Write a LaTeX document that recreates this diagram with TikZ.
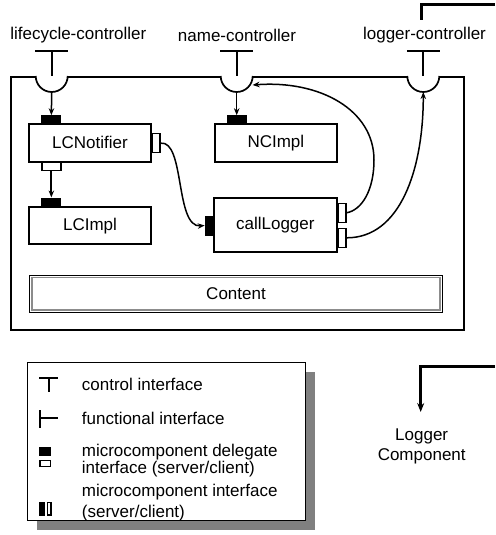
\documentclass[tikz,border=0pt]{standalone}
\usepackage{fontspec}
\setmainfont{Liberation Sans}
\usetikzlibrary{arrows.meta,calc}
\newcommand\lblfont{\fontsize{17}{19}\selectfont}
\tikzset{
  comp/.style={draw, line width=2pt, fill=white, inner sep=0pt, font=\lblfont},
  srvtab/.style={draw, fill=black, inner sep=0pt, line width=0.8pt},
  clitab/.style={draw, fill=white, inner sep=0pt, line width=1.4pt},
  htab/.style={minimum width=19pt, minimum height=8pt},
  vtab/.style={minimum width=7.5pt, minimum height=19pt},
  conn/.style={line width=1.5pt, -{Stealth[length=7pt,width=5.5pt]}},
  ctl/.style={line width=1.7pt},
  lbl/.style={font=\lblfont, inner sep=0pt},
  thickln/.style={line width=3pt},
}
\begin{document}
\begin{tikzpicture}[x=1pt,y=-1pt]
\useasboundingbox (0,0) rectangle (495,535);

% outer membrane
\node[draw, line width=1.7pt, inner sep=0pt, minimum width=453pt, minimum height=253pt, anchor=north west] (outer) at (10,76) {};

% controller labels
\node[lbl] (lcl) at (78.3,35) {lifecycle-controller};
\node[lbl] (ncl) at (237,35) {name-controller};
\node[lbl] (lgl) at (424.5,35) {logger-controller};

% control interfaces (T + half circle)
\foreach \n/\x in {lc/51.7, nc/236.7, lg/423.3} {
  \coordinate (\n top) at (\x,51);
  \coordinate (\n mem) at (\x,76);
  \coordinate (\n bot) at (\x,92);
  \draw[ctl] (\x-16.5,51) -- (\x+16.5,51);
  \draw[ctl] (\n top) -- (\n mem);
  \draw[ctl, fill=white] (\x-16,76) arc[start angle=180, end angle=360, radius=16pt];
}

% components
\node[comp, minimum width=121.4pt, minimum height=37.7pt] (lcn) at (90,142.85) {LCNotifier};
\node[comp, minimum width=121.4pt, minimum height=36.7pt] (lci) at (90,225.65) {LCImpl};
\node[comp, minimum width=121.7pt, minimum height=37.7pt] (nci) at (275.85,142.85) {NCImpl};
\node[comp, minimum width=122.7pt, minimum height=53.4pt] (cl) at (275.35,225) {callLogger};

% tabs
\node[srvtab, htab, anchor=south] (lcns) at (51.35,124) {};
\node[clitab, vtab, anchor=west] (lcnr) at (lcn.east |- 0,143.15) {};
\node[clitab, htab, anchor=north] (lcnb) at (51.35,161.7) {};
\node[srvtab, htab, minimum height=9pt, anchor=south] (lcis) at (51.35,207.3) {};
\node[srvtab, htab, anchor=south] (ncis) at (236.7,124) {};
\node[srvtab, vtab, anchor=east] (cls) at (cl.west |- 0,225.5) {};
\node[clitab, vtab, anchor=west] (clr1) at (cl.east |- 0,212.8) {};
\node[clitab, vtab, anchor=west] (clr2) at (cl.east |- 0,237.8) {};

% content
\node[draw, line width=1pt, inner sep=0pt, minimum width=413.4pt, minimum height=37.3pt, font=\lblfont] (content) at (236,293.65) {Content};
\draw[black!45, line width=1.8pt] ([shift={(3,3)}]content.north west) rectangle ([shift={(-3,-3)}]content.south east);

% connectors
\draw[conn] (lcbot) -- (lcns.north);
\draw[conn] (ncbot) -- (ncis.north);
\draw[conn, line width=2.2pt] (lcnb.south) -- (lcis.north);
\draw[conn] (lcnr.east) .. controls (185,140) and (175,228) .. (cls.west);
\coordinate (ncside) at (252.5,85);
\coordinate (clbend) at (374,160);
\draw[conn] (clr1.east) .. controls (362,210) and (374,190) .. (clbend) .. controls (374,110) and (320,80) .. (ncside);
\draw[conn] (clr2.east) .. controls (400,238) and (423.3,170) .. (lgbot);

% logger component link
\coordinate (lgout) at (421,20);
\coordinate (lgcorner) at (421,5);
\coordinate (lgedge) at (495,5);
\draw[thickln] (lgout) -- (lgcorner) -- (lgedge);
\coordinate (lcin) at (495,366.7);
\coordinate (lccorner) at (420.7,366.7);
\coordinate (lcarrow) at (420.7,412);
\node[lbl, align=center, font=\fontsize{17}{20.7}\selectfont] (logcomp) at (421.7,446.3) {Logger\\Component};
\draw[thickln, -{Stealth[length=9pt,width=7pt]}] (lcin) -- (lccorner) -- (lcarrow);

% legend
\fill[black!50] (36.7,371.7) rectangle (315,530);
\node[draw, fill=white, line width=1.3pt, inner sep=0pt, minimum width=278.3pt, minimum height=158.3pt, anchor=north west] (legend) at (26.7,361.7) {};
\draw[ctl] (39.3,378.3) -- (58.3,378.3);
\draw[ctl] (49.3,378.3) -- (49.3,391.7);
\draw[ctl] (40,410) -- (40,428.3);
\draw[ctl] (40,418.3) -- (58.3,418.3);
\fill (39.3,447.3) rectangle (51,456);
\draw[line width=1.4pt] (39.9,460.6) rectangle (50.4,466.7);
\fill (39.3,501.7) rectangle (45,515.7);
\draw[line width=1.4pt] (47.3,502.3) rectangle (51.1,515.1);
\node[lbl, anchor=west] (lg1) at (81.7,384.3) {control interface};
\node[lbl, anchor=west] (lg2) at (81.7,418.3) {functional interface};
\node[lbl, anchor=west, align=left, font=\fontsize{17}{17}\selectfont] (lg3) at (81.7,460.8) {microcomponent delegate\\interface (server/client)};
\node[lbl, anchor=west, align=left, font=\fontsize{17}{21}\selectfont] (lg4) at (81.7,502.5) {microcomponent interface\\(server/client)};
\end{tikzpicture}
\end{document}
